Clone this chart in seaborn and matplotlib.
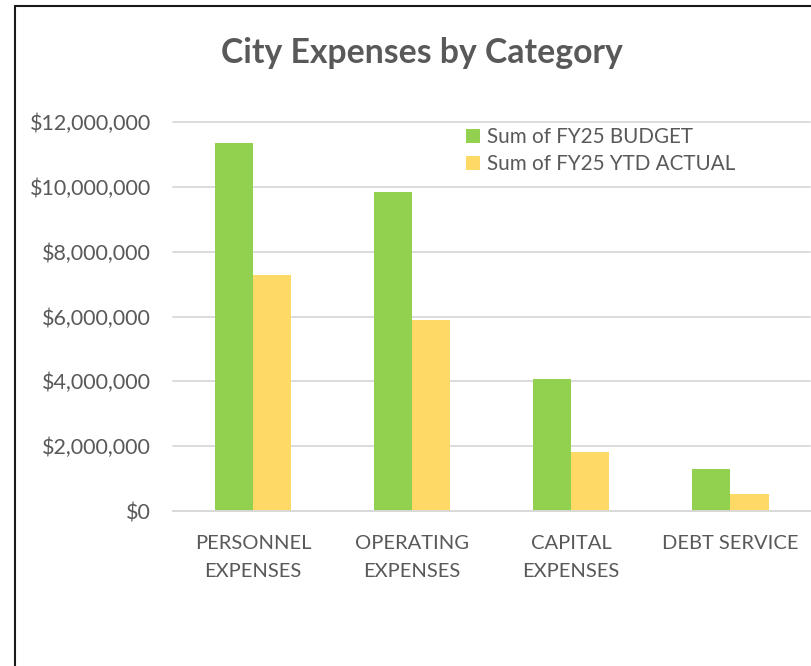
import numpy as np
import pandas as pd
import matplotlib
matplotlib.use("Agg")
import matplotlib.pyplot as plt
import seaborn as sns
from matplotlib.patches import Rectangle
from matplotlib.ticker import FuncFormatter, FixedLocator

# Datos del grafico
categorias = ["PERSONNEL\nEXPENSES", "OPERATING\nEXPENSES", "CAPITAL\nEXPENSES", "DEBT SERVICE"]
series = ["Sum of FY25 BUDGET", "Sum of FY25 YTD ACTUAL"]
presupuesto = [11350000, 9840000, 4070000, 1300000]
ejecutado = [7270000, 5890000, 1820000, 510000]
ticks_y = [0, 2000000, 4000000, 6000000, 8000000, 10000000, 12000000]

VERDE = "#92D050"
AMARILLO = "#FFD966"
GRIS_TEXTO = "#595959"
GRIS_LINEA = "#D9D9D9"


def armar_tabla():
    # Tabla larga para seaborn
    filas = []
    for cat, v in zip(categorias, presupuesto):
        filas.append({"Categoria": cat, "Serie": series[0], "Monto": v})
    for cat, v in zip(categorias, ejecutado):
        filas.append({"Categoria": cat, "Serie": series[1], "Monto": v})
    return pd.DataFrame(filas)


def main():
    sns.set_theme(style="white")
    plt.rcParams["font.family"] = ["Lato", "DejaVu Sans"]

    W, H = 811, 666
    fig = plt.figure(figsize=(W / 100, H / 100), dpi=100)
    ax = fig.add_axes([173.3 / W, 1 - 511 / H, (810 - 173.3) / W, (511 - 122) / H])

    df = armar_tabla()
    sns.barplot(data=df, x="Categoria", y="Monto", hue="Serie", order=categorias,
                hue_order=series, palette=[VERDE, AMARILLO], width=0.48, gap=0,
                linewidth=0, saturation=1, ax=ax)

    ax.set_xlim(-0.5, len(categorias) - 0.5)
    ax.set_ylim(0, 12000000)
    ax.yaxis.set_major_locator(FixedLocator(ticks_y))
    ax.yaxis.set_major_formatter(FuncFormatter(lambda v, p: f"${v:,.0f}"))
    ax.set_xlabel("")
    ax.set_ylabel("")

    ax.grid(axis="y", color=GRIS_LINEA, linewidth=1.3)
    ax.set_axisbelow(True)
    for linea in ax.get_ygridlines():
        linea.set_clip_on(False)

    for lado in ["left", "top", "right"]:
        ax.spines[lado].set_visible(False)
    ax.spines["bottom"].set_color(GRIS_LINEA)
    ax.spines["bottom"].set_linewidth(1.3)

    ax.tick_params(axis="y", length=0, pad=16, labelsize=15.5, labelcolor=GRIS_TEXTO)
    ax.tick_params(axis="x", which="major", length=0, pad=17, labelsize=14.5,
                   labelcolor=GRIS_TEXTO)
    ax.set_xticks(np.arange(-0.5, len(categorias)), minor=True)
    ax.tick_params(axis="x", which="minor", length=4.5, width=1, color=GRIS_LINEA,
                   direction="out")
    for etiqueta in ax.get_xticklabels():
        etiqueta.set_linespacing(1.78)

    ley = ax.legend(loc="upper left", bbox_to_anchor=(466 / W, 1 - 127 / H),
                    bbox_transform=fig.transFigure, frameon=False, fontsize=14.9,
                    handlelength=0.66, handleheight=0.66, handletextpad=0.35,
                    labelspacing=0.34, borderpad=0, borderaxespad=0)
    for t in ley.get_texts():
        t.set_color(GRIS_TEXTO)

    fig.text(421.6 / W, 1 - 53 / H, "City Expenses by Category", ha="center", va="center",
             fontsize=24.3, fontweight="bold", color=GRIS_TEXTO)

    # Marco exterior del grafico (cortado a la derecha y abajo)
    marco = Rectangle((15.3 / W, -0.05), 1.2, 1 - 6 / H + 0.05, transform=fig.transFigure,
                      fill=False, edgecolor="#1a1a1a", linewidth=1.5)
    fig.patches.append(marco)

    fig.savefig("out.png", dpi=100)
    plt.close(fig)


if __name__ == "__main__":
    main()
